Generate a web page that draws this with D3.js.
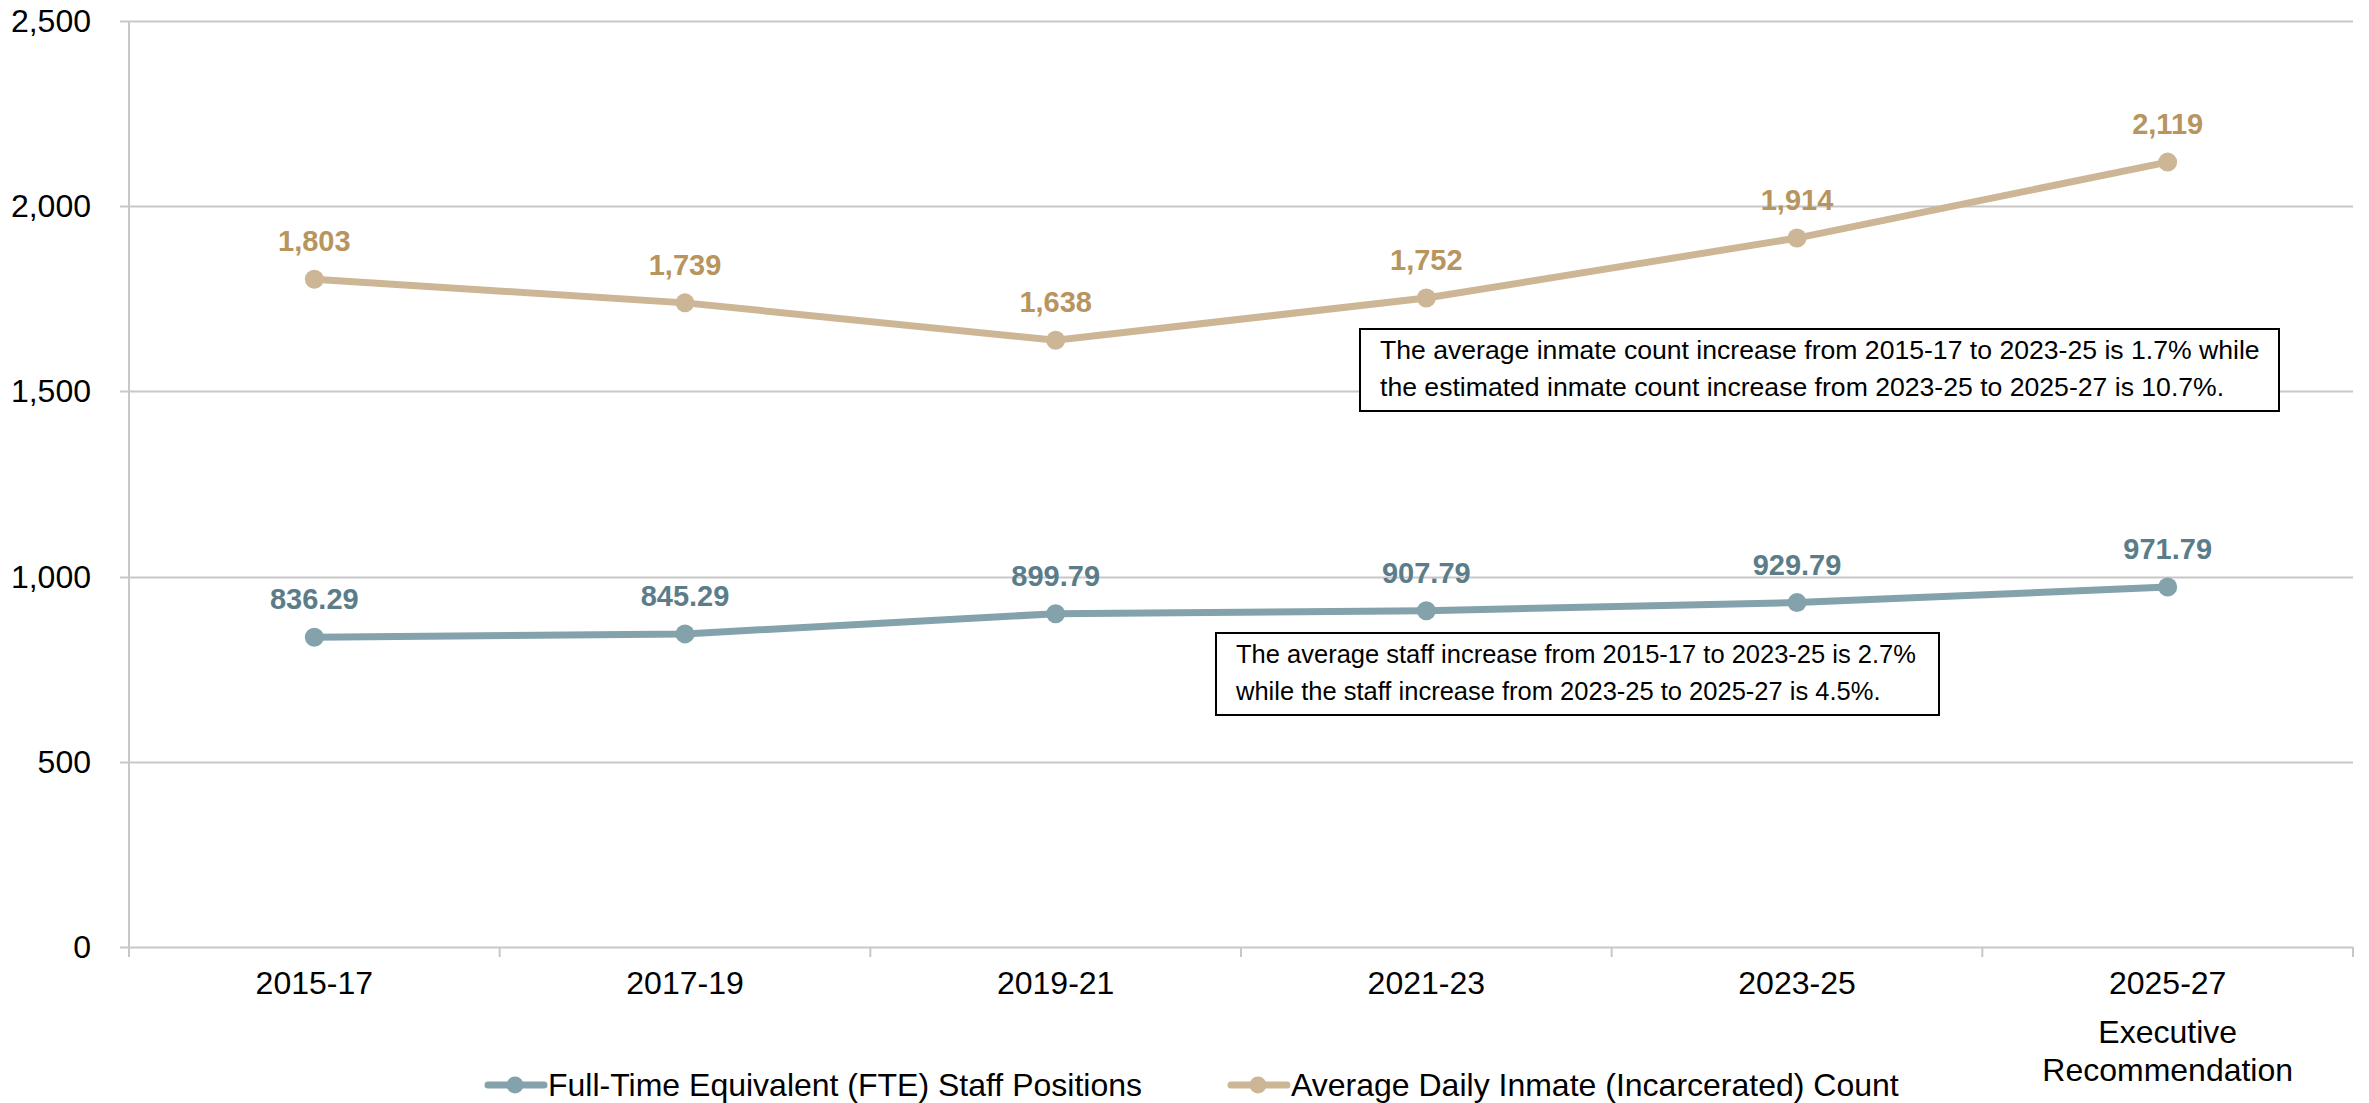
<!DOCTYPE html>
<html>
<head>
<meta charset="utf-8">
<script src="https://cdn.jsdelivr.net/npm/d3@7"></script>
<style>
  body { margin: 0; background: #fff; }
  svg { display: block; font-family: "Liberation Sans", Arial, sans-serif; }
</style>
</head>
<body>
<div id="chart"></div>
<script>
// data
var periods = ["2015-17", "2017-19", "2019-21", "2021-23", "2023-25", "2025-27"];
var periodSub = ["", "", "", "", "", "Executive\nRecommendation"];
var staffFTE = [836.29, 845.29, 899.79, 907.79, 929.79, 971.79];
var inmateCount = [1803, 1739, 1638, 1752, 1914, 2119];
var yTicks = [0, 500, 1000, 1500, 2000, 2500];
var seriesNames = ["Full-Time Equivalent (FTE) Staff Positions", "Average Daily Inmate (Incarcerated) Count"];
var notes = [
  ["The average inmate count increase from 2015-17 to 2023-25 is 1.7% while",
   "the estimated inmate count increase from 2023-25 to 2025-27 is 10.7%."],
  ["The average staff increase from 2015-17 to 2023-25 is 2.7%",
   "while the staff increase from 2023-25 to 2025-27 is 4.5%."]
];

var W = 2369, H = 1103;
// plot area edges (window.top is reserved, so prefixed names)
var pLeft = 129, pRight = 2353, pTop = 21, pBottom = 947;

var svg = d3.select('#chart').append('svg')
  .attr('width', W)
  .attr('height', H);

var x = d3.scaleBand().domain(periods).range([pLeft, pRight]).padding(0);
var y = d3.scaleLinear().domain([0, 2500]).range([pBottom, pTop]);
var cx = function(i) { return x(periods[i]) + x.bandwidth() / 2; };

var series = [
  { name: seriesNames[0], values: staffFTE, line: '#84a2ab', label: '#5b7d89', fmt: d3.format('.2f') },
  { name: seriesNames[1], values: inmateCount, line: '#cdb695', label: '#b8955f', fmt: d3.format(',') }
];

// gridlines
svg.append('g').selectAll('line').data(yTicks).enter().append('line')
  .attr('x1', pLeft - 9).attr('x2', pRight)
  .attr('y1', function(d) { return Math.round(y(d)) + 0.5; })
  .attr('y2', function(d) { return Math.round(y(d)) + 0.5; })
  .attr('stroke', '#c8c8c8').attr('stroke-width', 2);

// y axis line
svg.append('line')
  .attr('x1', pLeft).attr('x2', pLeft).attr('y1', pTop).attr('y2', pBottom + 10)
  .attr('stroke', '#c8c8c8').attr('stroke-width', 2);

// x ticks at band edges
var edges = periods.map(function(p) { return x(p); }).concat([pRight]);
svg.append('g').selectAll('line').data(edges.slice(1)).enter().append('line')
  .attr('x1', function(d) { return d; }).attr('x2', function(d) { return d; })
  .attr('y1', pBottom).attr('y2', pBottom + 10)
  .attr('stroke', '#c8c8c8').attr('stroke-width', 2);

// y labels
svg.append('g').selectAll('text').data(yTicks).enter().append('text')
  .attr('x', 91).attr('y', function(d) { return y(d) + 11; })
  .attr('text-anchor', 'end')
  .style('font-size', '32px').attr('fill', '#000')
  .text(function(d) { return d3.format(',')(d); });

// x labels
var xl = svg.append('g').selectAll('text').data(periods).enter().append('text')
  .attr('y', 994)
  .attr('text-anchor', 'middle')
  .style('font-size', '32px').attr('fill', '#000');
xl.each(function(d, i) {
  var t = d3.select(this);
  t.append('tspan').attr('x', cx(i)).text(d);
  if (periodSub[i]) {
    periodSub[i].split('\n').forEach(function(s, j) {
      t.append('tspan').attr('x', cx(i))
        .attr('dy', j == 0 ? 49 : 38).text(s);
    });
  }
});

var line = d3.line()
  .x(function(d, i) { return cx(i); })
  .y(function(d) { return y(d); });

series.forEach(function(s) {
  var g = svg.append('g');
  g.append('path').datum(s.values)
    .attr('d', line)
    .attr('fill', 'none').attr('stroke', s.line).attr('stroke-width', 7);
  g.selectAll('circle').data(s.values).enter().append('circle')
    .attr('cx', function(d, i) { return cx(i); })
    .attr('cy', function(d) { return y(d); })
    .attr('r', 9.5).attr('fill', s.line);
  g.selectAll('text').data(s.values).enter().append('text')
    .attr('x', function(d, i) { return cx(i); })
    .attr('y', function(d) { return y(d) - 28; })
    .attr('text-anchor', 'middle')
    .style('font-size', '29px').style('font-weight', 'bold')
    .attr('fill', s.label)
    .text(function(d) { return s.fmt(d); });
});

// annotation boxes
var boxes = [
  { x: 1360, y: 329, w: 919, h: 82, fs: 26.6, lines: notes[0] },
  { x: 1216, y: 633, w: 723, h: 82, fs: 25.5, lines: notes[1] }
];
boxes.forEach(function(b) {
  var g = svg.append('g');
  g.append('rect')
    .attr('x', b.x).attr('y', b.y).attr('width', b.w).attr('height', b.h)
    .attr('fill', '#fff').attr('stroke', '#000').attr('stroke-width', 2);
  g.selectAll('text').data(b.lines).enter().append('text')
    .attr('x', b.x + 20)
    .attr('y', function(d, i) { return b.y + 30 + i * 37; })
    .style('font-size', b.fs + 'px').attr('fill', '#000')
    .text(function(d) { return d; });
});

// legend
var legendX = [488, 1231];
series.forEach(function(s, i) {
  var g = svg.append('g').attr('transform', 'translate(' + legendX[i] + ',1085)');
  g.append('line').attr('x1', 0).attr('x2', 56).attr('y1', 0).attr('y2', 0)
    .attr('stroke', s.line).attr('stroke-width', 7).attr('stroke-linecap', 'round');
  g.append('circle').attr('cx', 27).attr('cy', 0).attr('r', 8.5).attr('fill', s.line);
  g.append('text').attr('x', 60).attr('y', 11)
    .style('font-size', '32px').attr('fill', '#000')
    .text(s.name);
});
</script>
</body>
</html>
